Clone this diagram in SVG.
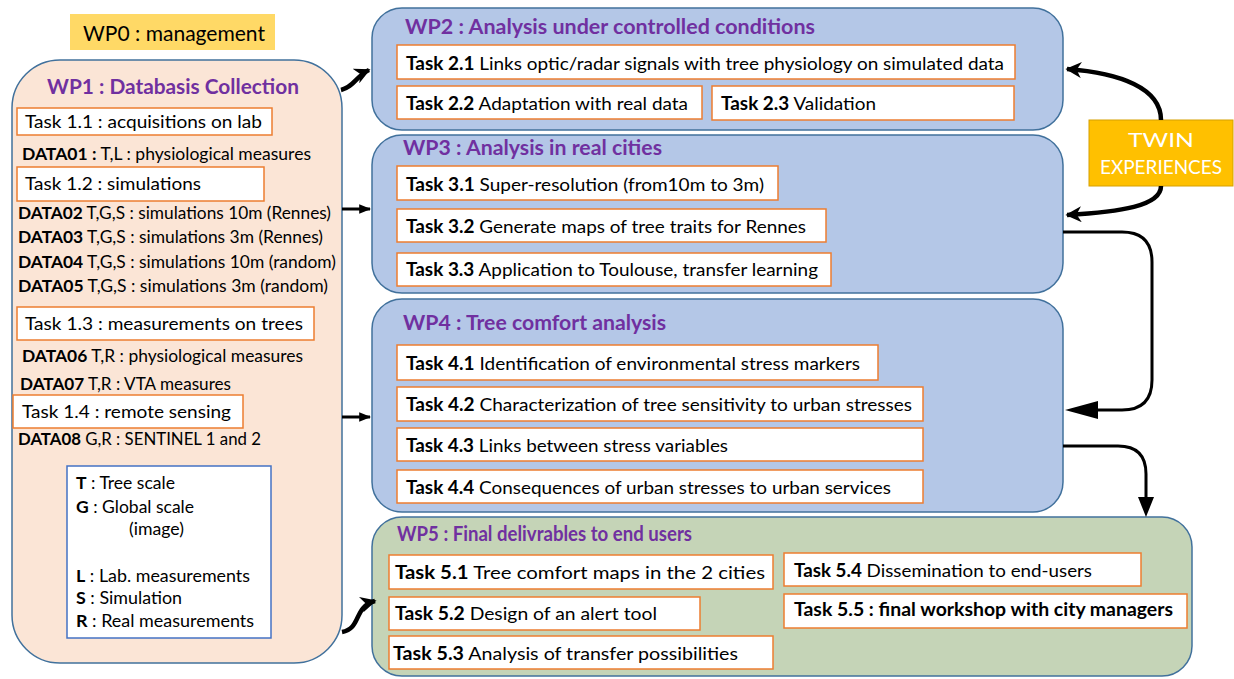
<svg xmlns="http://www.w3.org/2000/svg" width="1234" height="679" viewBox="0 0 1234 679">
<defs>
<style>
text{font-family:Lato,"Open Sans","Liberation Sans",sans-serif;fill:#000}
.wp{fill:#b4c7e7;stroke:#41719c;stroke-width:1.5}
.task{fill:#fff;stroke:#ed7d31;stroke-width:1.5}
.title{font-weight:bold;fill:#7030a0;font-size:20px}
.t{font-size:18px}
.d{font-size:17px}
.lg{font-size:17px}
.b{font-weight:bold}
.con{fill:none;stroke:#000;stroke-width:3}
.thick{fill:none;stroke:#000;stroke-width:4.5}
</style>
<marker id="ah" viewBox="0 0 10 10" refX="9" refY="5" markerWidth="16" markerHeight="16" markerUnits="userSpaceOnUse" orient="auto">
<path d="M0,0 L10,5 L0,10 L3,5 Z" fill="#000"/>
</marker>
<marker id="ahs" viewBox="0 0 10 10" refX="9" refY="5" markerWidth="12" markerHeight="12" markerUnits="userSpaceOnUse" orient="auto">
<path d="M0,1 L10,5 L0,9 Z" fill="#000"/>
</marker>
</defs>
<rect width="1234" height="679" fill="#fff"/>

<g id="wp0">
<rect x="70" y="14" width="205" height="36" fill="#ffd966"/>
<text x="83" y="41" font-size="21" textLength="182" lengthAdjust="spacingAndGlyphs">WP0 : management</text>
</g>

<g id="wp1">
<rect x="12" y="60" width="330" height="603" rx="48" fill="#fbe5d6" stroke="#41719c" stroke-width="1.5"/>
<text class="title" x="47" y="94" textLength="252" lengthAdjust="spacingAndGlyphs">WP1 : Databasis Collection</text>
<rect class="task" x="17" y="108" width="255" height="27"/>
<text class="t" x="25" y="128" textLength="237" lengthAdjust="spacingAndGlyphs">Task 1.1 : acquisitions on lab</text>
<text class="d" x="22" y="160" textLength="289" lengthAdjust="spacingAndGlyphs"><tspan class="b">DATA01 :</tspan> T,L : physiological measures</text>
<rect class="task" x="17" y="167" width="247" height="34"/>
<text class="t" x="25" y="190" textLength="176" lengthAdjust="spacingAndGlyphs">Task 1.2 : simulations</text>
<text class="d" x="18" y="219" textLength="313" lengthAdjust="spacingAndGlyphs"><tspan class="b">DATA02</tspan> T,G,S : simulations 10m (Rennes)</text>
<text class="d" x="18" y="243" textLength="305" lengthAdjust="spacingAndGlyphs"><tspan class="b">DATA03</tspan> T,G,S : simulations 3m (Rennes)</text>
<text class="d" x="18" y="268" textLength="318" lengthAdjust="spacingAndGlyphs"><tspan class="b">DATA04</tspan> T,G,S : simulations 10m (random)</text>
<text class="d" x="18" y="292" textLength="310" lengthAdjust="spacingAndGlyphs"><tspan class="b">DATA05</tspan> T,G,S : simulations 3m (random)</text>
<rect class="task" x="17" y="307" width="297" height="33"/>
<text class="t" x="25" y="330" textLength="278" lengthAdjust="spacingAndGlyphs">Task 1.3 : measurements on trees</text>
<text class="d" x="22" y="362" textLength="281" lengthAdjust="spacingAndGlyphs"><tspan class="b">DATA06</tspan> T,R : physiological measures</text>
<text class="d" x="20" y="390" textLength="211" lengthAdjust="spacingAndGlyphs"><tspan class="b">DATA07</tspan> T,R : VTA measures</text>
<rect class="task" x="13" y="395" width="230" height="33"/>
<text class="t" x="22" y="418" textLength="209" lengthAdjust="spacingAndGlyphs">Task 1.4 : remote sensing</text>
<text class="d" x="18" y="445" textLength="243" lengthAdjust="spacingAndGlyphs"><tspan class="b">DATA08</tspan> G,R : SENTINEL 1 and 2</text>
</g>

<g id="legend">
<rect x="67" y="466" width="204" height="172" fill="#fff" stroke="#4472c4" stroke-width="1.5"/>
<text class="lg" x="76" y="489" textLength="99" lengthAdjust="spacingAndGlyphs"><tspan class="b">T</tspan> : Tree scale</text>
<text class="lg" x="76" y="513" textLength="118" lengthAdjust="spacingAndGlyphs"><tspan class="b">G</tspan> : Global scale</text>
<text class="lg" x="129" y="535" textLength="55" lengthAdjust="spacingAndGlyphs">(image)</text>
<text class="lg" x="76" y="582" textLength="174" lengthAdjust="spacingAndGlyphs"><tspan class="b">L</tspan> : Lab. measurements</text>
<text class="lg" x="76" y="604" textLength="106" lengthAdjust="spacingAndGlyphs"><tspan class="b">S</tspan> : Simulation</text>
<text class="lg" x="76" y="627" textLength="178" lengthAdjust="spacingAndGlyphs"><tspan class="b">R</tspan> : Real measurements</text>
</g>

<g id="wp2">
<rect class="wp" x="372" y="8" width="691" height="122" rx="30"/>
<text class="title" x="405" y="34" textLength="410" lengthAdjust="spacingAndGlyphs">WP2 : Analysis under controlled conditions</text>
<rect class="task" x="397" y="45" width="618" height="34"/>
<text class="t" x="406" y="70" textLength="598" lengthAdjust="spacingAndGlyphs"><tspan class="b">Task 2.1</tspan> Links optic/radar signals with tree physiology on simulated data</text>
<rect class="task" x="397" y="86" width="305" height="33"/>
<text class="t" x="406" y="110" textLength="282" lengthAdjust="spacingAndGlyphs"><tspan class="b">Task 2.2</tspan> Adaptation with real data</text>
<rect class="task" x="712" y="86" width="302" height="34"/>
<text class="t" x="721" y="110" textLength="155" lengthAdjust="spacingAndGlyphs"><tspan class="b">Task 2.3</tspan> Validation</text>
</g>

<g id="wp3">
<rect class="wp" x="372" y="135" width="691" height="158" rx="30"/>
<text class="title" x="403" y="155" textLength="259" lengthAdjust="spacingAndGlyphs">WP3 : Analysis in real cities</text>
<rect class="task" x="397" y="166" width="381" height="34"/>
<text class="t" x="406" y="191" textLength="358" lengthAdjust="spacingAndGlyphs"><tspan class="b">Task 3.1</tspan> Super-resolution (from10m to 3m)</text>
<rect class="task" x="397" y="209" width="429" height="33"/>
<text class="t" x="406" y="233" textLength="400" lengthAdjust="spacingAndGlyphs"><tspan class="b">Task 3.2</tspan> Generate maps of tree traits for Rennes</text>
<rect class="task" x="397" y="253" width="434" height="33"/>
<text class="t" x="406" y="276" textLength="412" lengthAdjust="spacingAndGlyphs"><tspan class="b">Task 3.3</tspan> Application to Toulouse, transfer learning</text>
</g>

<g id="wp4">
<rect class="wp" x="372" y="299" width="691" height="213" rx="30"/>
<text class="title" x="403" y="330" textLength="263" lengthAdjust="spacingAndGlyphs">WP4 : Tree comfort analysis</text>
<rect class="task" x="397" y="345" width="481" height="35"/>
<text class="t" x="406" y="370" textLength="454" lengthAdjust="spacingAndGlyphs"><tspan class="b">Task 4.1</tspan> Identification of environmental stress markers</text>
<rect class="task" x="397" y="387" width="526" height="34"/>
<text class="t" x="406" y="411" textLength="506" lengthAdjust="spacingAndGlyphs"><tspan class="b">Task 4.2</tspan> Characterization of tree sensitivity to urban stresses</text>
<rect class="task" x="397" y="428" width="526" height="33"/>
<text class="t" x="406" y="452" textLength="322" lengthAdjust="spacingAndGlyphs"><tspan class="b">Task 4.3</tspan> Links between stress variables</text>
<rect class="task" x="397" y="470" width="526" height="33"/>
<text class="t" x="406" y="494" textLength="485" lengthAdjust="spacingAndGlyphs"><tspan class="b">Task 4.4</tspan> Consequences of urban stresses to urban services</text>
</g>

<g id="wp5">
<rect x="372" y="517" width="820" height="159" rx="30" fill="#c5d4b7" stroke="#41719c" stroke-width="1.5"/>
<text class="title" x="397" y="541" textLength="295" lengthAdjust="spacingAndGlyphs">WP5 : Final delivrables to end users</text>
<rect class="task" x="389" y="555" width="384" height="34"/>
<text class="t" x="395" y="579" textLength="370" lengthAdjust="spacingAndGlyphs"><tspan class="b">Task 5.1</tspan> Tree comfort maps in the 2 cities</text>
<rect class="task" x="389" y="597" width="311" height="33"/>
<text class="t" x="395" y="620" textLength="262" lengthAdjust="spacingAndGlyphs"><tspan class="b">Task 5.2</tspan> Design of an alert tool</text>
<rect class="task" x="389" y="636" width="384" height="33"/>
<text class="t" x="393" y="660" textLength="345" lengthAdjust="spacingAndGlyphs"><tspan class="b">Task 5.3</tspan> Analysis of transfer possibilities</text>
<rect class="task" x="784" y="553" width="357" height="33"/>
<text class="t" x="794" y="577" textLength="298" lengthAdjust="spacingAndGlyphs"><tspan class="b">Task 5.4</tspan> Dissemination to end-users</text>
<rect class="task" x="784" y="594" width="403" height="34"/>
<text class="t b" x="794" y="616" textLength="379" lengthAdjust="spacingAndGlyphs">Task 5.5 : final workshop with  city managers</text>
</g>

<g id="twin">
<rect x="1089" y="120" width="144" height="66" fill="#ffc000" stroke="#d6a000" stroke-width="1"/>
<text x="1161" y="147" font-size="20" text-anchor="middle" style="fill:#fff" textLength="66" lengthAdjust="spacingAndGlyphs">TWIN</text>
<text x="1161" y="174" font-size="20" text-anchor="middle" style="fill:#fff" textLength="122" lengthAdjust="spacingAndGlyphs">EXPERIENCES</text>
</g>

<g id="connectors">
<path class="thick" d="M341,90 C354,87 356,76 369,70" marker-end="url(#ah)"/>
<path class="con" d="M342,209 H370" marker-end="url(#ahs)"/>
<path class="con" d="M342,417 H370" marker-end="url(#ahs)"/>
<path class="thick" d="M342,632 C362,628 353,607 375,601" marker-end="url(#ah)"/>
<path class="thick" d="M1161,120 C1161,88 1120,73 1067,69" marker-end="url(#ah)"/>
<path class="thick" d="M1161,186 C1161,206 1120,212 1067,215" marker-end="url(#ah)"/>
<path class="con" d="M1063,232 H1122 Q1152,232 1152,262 V380 Q1152,410 1122,410 H1096"/>
<polygon points="1065,410 1098,401 1098,419" fill="#000"/>
<path class="con" d="M1063,446 H1118 Q1146,446 1146,474 V498"/>
<polygon points="1146,517 1138,497 1154,497" fill="#000"/>
</g>
</svg>
